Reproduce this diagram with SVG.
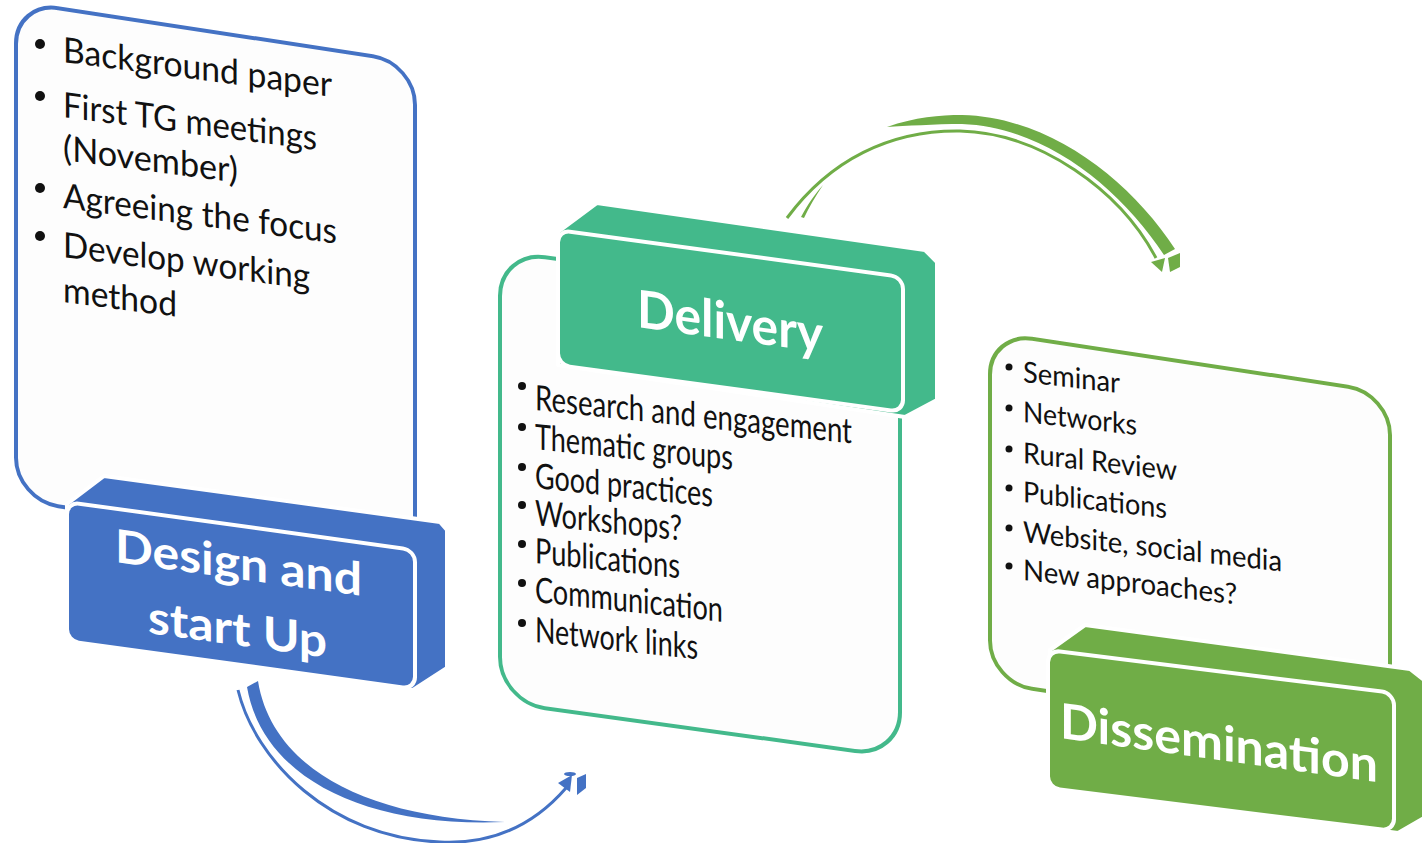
<svg xmlns="http://www.w3.org/2000/svg" width="1424" height="843" viewBox="0 0 1424 843">
<style>
.panel{fill:#FDFDFD;stroke-width:4}
.item{font-family:Lato,"Open Sans","Liberation Sans",sans-serif;fill:#111}
.lab{font-family:Lato,"Open Sans","Liberation Sans",sans-serif;font-weight:bold;fill:#fff}
.face{stroke:#fff;stroke-width:4;stroke-linejoin:round}
.blue{fill:#4472C4}.teal{fill:#43B98B}.green{fill:#70AD47}
</style>
<rect width="1424" height="843" fill="#fff"/>

<g id="connectors">
  <g id="arrow-blue">
    <path d="M247,687 C262,775 360,828 505,822 C366,818 272,768 258,681 Z" fill="#4472C4"/>
    <path d="M238,690 C255,760 330,838 440,842 C500,845 540,818 566,788" fill="none" stroke="#4472C4" stroke-width="3"/>
    <path d="M558,783 L572,775 L570,792 Z" fill="#4472C4"/>
    <ellipse cx="570" cy="774" rx="6" ry="2" fill="#4472C4"/>
    <path d="M577,778 L586,774 L586,788 L577,795 Z" fill="#4472C4"/>
  </g>
  <g id="arrow-green">
    <path d="M887,127 C915,117 940,115 962,115 C1050,117 1130,180 1175,249 L1164,255 C1120,188 1045,127 962,124 C935,124 905,126 887,127 Z" fill="#70AD47"/>
    <path d="M787,218 C830,160 890,130 960,131 C1040,133 1120,190 1156,258" fill="none" stroke="#70AD47" stroke-width="3"/>
    <path d="M801,217 C808,204 815,194 823,185 C815,197 809,207 804,218 Z" fill="#70AD47"/>
    <path d="M1151,262 L1165,258 L1162,272 Z" fill="#70AD47"/>
    <path d="M1168,258 L1180,253 L1180,267 L1170,272 Z" fill="#70AD47"/>
  </g>
</g>

<g id="panel-design">
  <rect class="panel" x="0" y="0" width="399" height="498" rx="42" transform="translate(16,1.7) skewY(8.7)" stroke="#4472C4"/>
  <g class="item" font-size="35">
    <circle cx="40" cy="44" r="5" fill="#111"/>
    <text transform="translate(63,62) skewY(7.4)" textLength="269" lengthAdjust="spacingAndGlyphs">Background paper</text>
    <circle cx="40" cy="96" r="5" fill="#111"/>
    <text transform="translate(63,117) skewY(7.4)" textLength="254" lengthAdjust="spacingAndGlyphs">First TG meetings</text>
    <text transform="translate(63,160) skewY(7.4)" textLength="175" lengthAdjust="spacingAndGlyphs">(November)</text>
    <circle cx="40" cy="188" r="5" fill="#111"/>
    <text transform="translate(63,208) skewY(7.4)" textLength="274" lengthAdjust="spacingAndGlyphs">Agreeing the focus</text>
    <circle cx="40" cy="236" r="5" fill="#111"/>
    <text transform="translate(63,257) skewY(7.4)" textLength="247" lengthAdjust="spacingAndGlyphs">Develop working</text>
    <text transform="translate(63,302) skewY(7.4)" textLength="114" lengthAdjust="spacingAndGlyphs">method</text>
  </g>
</g>

<g id="label-design">
  <polygon class="face blue" points="67,504 104,476 440,522 447,530 447,668 413,690 67,640"/>
  <rect class="face blue" x="0" y="0" width="348" height="139" rx="12" transform="translate(67,502) skewY(7.86)"/>
  <text class="lab" font-size="46" transform="translate(115,562) skewY(7.8)" textLength="247" lengthAdjust="spacingAndGlyphs">Design and</text>
  <text class="lab" font-size="46" transform="translate(148,633) skewY(7.8)" textLength="179" lengthAdjust="spacingAndGlyphs">start Up</text>
</g>

<g id="panel-delivery">
  <rect class="panel" x="0" y="0" width="400" height="451" rx="45" transform="translate(500,251) skewY(7.85)" stroke="#43B98B"/>
  <g class="item" font-size="35">
    <circle cx="522" cy="386" r="4" fill="#111"/>
    <text transform="translate(535,410) skewY(6)" textLength="317" lengthAdjust="spacingAndGlyphs">Research and engagement</text>
    <circle cx="522" cy="427" r="4" fill="#111"/>
    <text transform="translate(535,449) skewY(6)" textLength="198" lengthAdjust="spacingAndGlyphs">Thematic groups</text>
    <circle cx="522" cy="467" r="4" fill="#111"/>
    <text transform="translate(535,488) skewY(6)" textLength="178" lengthAdjust="spacingAndGlyphs">Good practices</text>
    <circle cx="522" cy="505" r="4" fill="#111"/>
    <text transform="translate(535,525) skewY(6)" textLength="147" lengthAdjust="spacingAndGlyphs">Workshops?</text>
    <circle cx="522" cy="544" r="4" fill="#111"/>
    <text transform="translate(535,563) skewY(6)" textLength="145" lengthAdjust="spacingAndGlyphs">Publications</text>
    <circle cx="522" cy="583" r="4" fill="#111"/>
    <text transform="translate(535,602) skewY(6)" textLength="188" lengthAdjust="spacingAndGlyphs">Communication</text>
    <circle cx="522" cy="623" r="4" fill="#111"/>
    <text transform="translate(535,642) skewY(6)" textLength="163" lengthAdjust="spacingAndGlyphs">Network links</text>
  </g>
</g>

<g id="label-delivery">
  <polygon class="face teal" points="558,232 597,203 925,250 937,262 937,400 905,417 558,365"/>
  <rect class="face teal" x="0" y="0" width="345" height="135" rx="12" transform="translate(558,230) skewY(7.76)"/>
  <text class="lab" font-size="52" transform="translate(637,327) skewY(7.8)" textLength="186" lengthAdjust="spacingAndGlyphs">Delivery</text>
</g>

<g id="panel-dissemination">
  <rect class="panel" x="0" y="0" width="400" height="350" rx="42" transform="translate(990,332.5) skewY(8.6)" stroke="#70AD47"/>
  <g class="item" font-size="29">
    <circle cx="1009" cy="367" r="3.5" fill="#111"/>
    <text transform="translate(1023,382) skewY(6.5)" textLength="97" lengthAdjust="spacingAndGlyphs">Seminar</text>
    <circle cx="1009" cy="408" r="3.5" fill="#111"/>
    <text transform="translate(1023,422) skewY(6.5)" textLength="114" lengthAdjust="spacingAndGlyphs">Networks</text>
    <circle cx="1009" cy="449" r="3.5" fill="#111"/>
    <text transform="translate(1023,463) skewY(6.5)" textLength="154" lengthAdjust="spacingAndGlyphs">Rural Review</text>
    <circle cx="1009" cy="488" r="3.5" fill="#111"/>
    <text transform="translate(1023,502) skewY(6.5)" textLength="144" lengthAdjust="spacingAndGlyphs">Publications</text>
    <circle cx="1009" cy="528" r="3.5" fill="#111"/>
    <text transform="translate(1023,542) skewY(6.5)" textLength="259" lengthAdjust="spacingAndGlyphs">Website, social media</text>
    <circle cx="1009" cy="566" r="3.5" fill="#111"/>
    <text transform="translate(1023,580) skewY(6.5)" textLength="214" lengthAdjust="spacingAndGlyphs">New approaches?</text>
  </g>
</g>

<g id="label-dissemination">
  <polygon class="face green" points="1050,650 1085,625 1410,669 1424,680 1424,818 1398,833 1048,787"/>
  <rect class="face green" x="0" y="0" width="346" height="138" rx="12" transform="translate(1048,650) skewY(7.1)"/>
  <text class="lab" font-size="49" transform="translate(1060,738) skewY(7.9)" textLength="318" lengthAdjust="spacingAndGlyphs">Dissemination</text>
</g>
</svg>
